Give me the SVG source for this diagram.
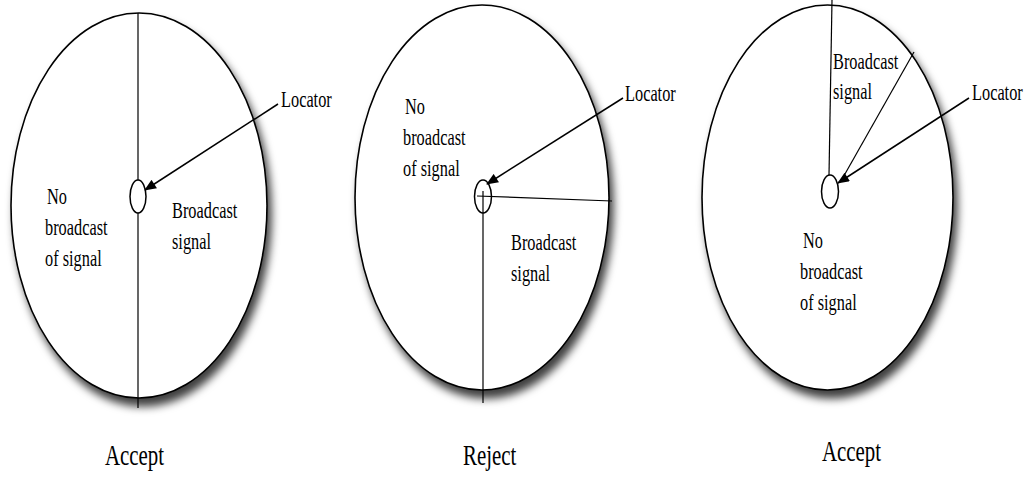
<svg xmlns="http://www.w3.org/2000/svg" width="1028" height="477" viewBox="0 0 1028 477">
<defs>
<filter id="sh" x="-10%" y="-10%" width="125%" height="125%">
<feDropShadow dx="4" dy="8" stdDeviation="4" flood-color="#000" flood-opacity="0.75"/>
</filter>
<marker id="ah" viewBox="0 0 12 10" refX="11" refY="5" markerWidth="13" markerHeight="10" markerUnits="userSpaceOnUse" orient="auto">
<path d="M0,0 L12,5 L0,10 z" fill="#000"/>
</marker>
</defs>
<style>
.big{fill:#fff;stroke:#000;stroke-width:1.6}
.small{fill:#fff;stroke:#000;stroke-width:1.5}
.ln{stroke:#000;stroke-width:1.2;fill:none}
.arr{stroke:#000;stroke-width:1.5;fill:none;marker-end:url(#ah)}
text{font-family:"Liberation Serif","Times New Roman",serif;fill:#000}
.t{font-size:23px}
.c{font-size:29px}
</style>

<g id="disc1">
<ellipse class="big" cx="139" cy="205.5" rx="128" ry="192.5" filter="url(#sh)"/>
<line class="ln" x1="138" y1="13" x2="138" y2="180"/>
<line class="ln" x1="138" y1="213" x2="138" y2="408"/>
<ellipse class="small" cx="138" cy="196.5" rx="8" ry="16.5"/>
<text class="t" transform="translate(47 204) scale(0.71 1)">No</text>
<text class="t" transform="translate(45 235) scale(0.71 1)">broadcast</text>
<text class="t" transform="translate(45 266) scale(0.71 1)">of signal</text>
<text class="t" transform="translate(172 218) scale(0.71 1)">Broadcast</text>
<text class="t" transform="translate(172 249) scale(0.71 1)">signal</text>
<text class="t" transform="translate(281 107) scale(0.71 1)">Locator</text>
<text class="c" transform="translate(105 465) scale(0.72 1)">Accept</text>
</g>

<g id="disc2">
<ellipse class="big" cx="482" cy="197.5" rx="127" ry="192.5" filter="url(#sh)"/>
<ellipse class="small" cx="483" cy="196.5" rx="8.5" ry="16.5"/>
<line class="ln" x1="477" y1="196" x2="612" y2="201"/>
<line class="ln" x1="483" y1="191" x2="483" y2="403"/>
<text class="t" transform="translate(405 114) scale(0.71 1)">No</text>
<text class="t" transform="translate(403 145) scale(0.71 1)">broadcast</text>
<text class="t" transform="translate(403 176) scale(0.71 1)">of signal</text>
<text class="t" transform="translate(511 250) scale(0.71 1)">Broadcast</text>
<text class="t" transform="translate(511 281) scale(0.71 1)">signal</text>
<text class="t" transform="translate(625 101) scale(0.71 1)">Locator</text>
<text class="c" transform="translate(463 465) scale(0.72 1)">Reject</text>
</g>

<g id="disc3">
<ellipse class="big" cx="827.5" cy="197.5" rx="125.5" ry="192.5" filter="url(#sh)"/>
<line class="ln" x1="832" y1="0" x2="829" y2="175"/>
<ellipse class="small" cx="830" cy="191.5" rx="8.5" ry="16.5"/>
<line class="ln" x1="914" y1="52" x2="841" y2="181"/>
<text class="t" transform="translate(833 69) scale(0.71 1)">Broadcast</text>
<text class="t" transform="translate(833 99) scale(0.71 1)">signal</text>
<text class="t" transform="translate(803 248) scale(0.71 1)">No</text>
<text class="t" transform="translate(800 279) scale(0.71 1)">broadcast</text>
<text class="t" transform="translate(800 310) scale(0.71 1)">of signal</text>
<text class="t" transform="translate(972 100) scale(0.71 1)">Locator</text>
<text class="c" transform="translate(822 461) scale(0.72 1)">Accept</text>
</g>

<g id="connectors">
<line class="arr" x1="278" y1="104" x2="145" y2="190"/>
<line class="arr" x1="623" y1="98" x2="487" y2="184"/>
<line class="arr" x1="969" y1="98" x2="838" y2="183"/>
</g>
</svg>
